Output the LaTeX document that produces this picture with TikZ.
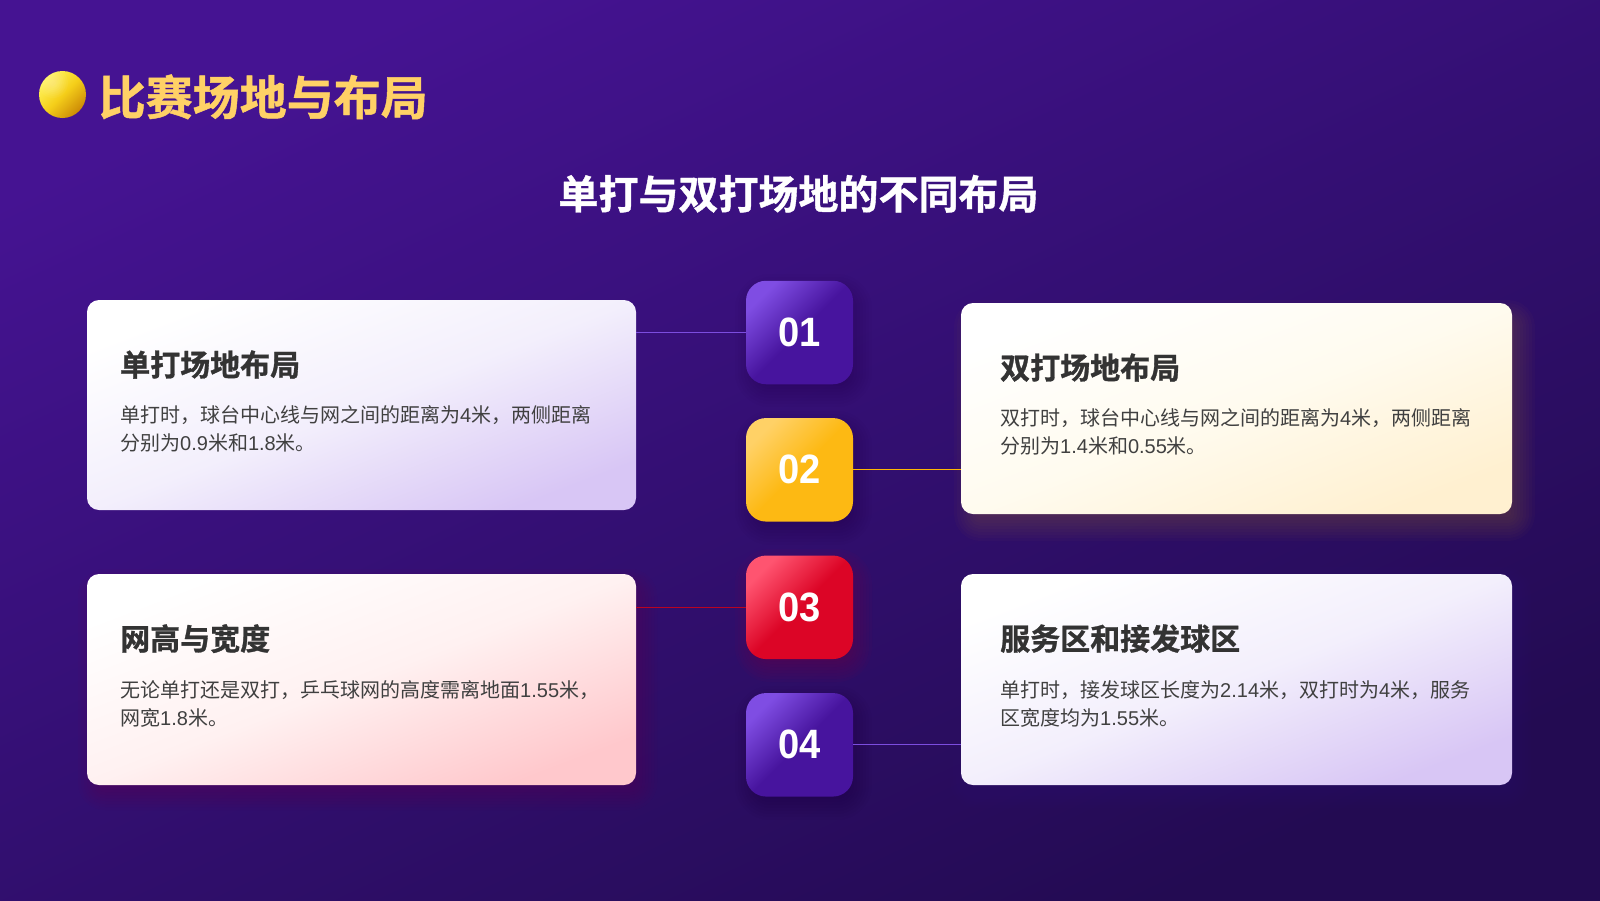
\documentclass[tikz,border=0pt]{standalone}
\usepackage{fontspec}
\setmainfont{Liberation Sans}
\newfontfamily\cjk{Noto Sans CJK SC}[BoldFont={Noto Sans CJK SC Bold},BoldFeatures={FakeBold=1}]
\newcommand{\zh}[1]{{\cjk #1}}
\definecolor{bgA}{HTML}{451392}
\definecolor{bgM}{HTML}{330F72}
\definecolor{bgB}{HTML}{230B52}
\definecolor{gold}{HTML}{FFD166}
\definecolor{amber}{HTML}{FFB703}
\definecolor{amberB}{HTML}{FDB913}
\definecolor{violetA}{HTML}{7F4DE3}
\definecolor{violetB}{HTML}{47149E}
\definecolor{violetL}{HTML}{7C4DDF}
\definecolor{redA}{HTML}{FF5470}
\definecolor{redB}{HTML}{DC0526}
\definecolor{cardV}{HTML}{D8C6F5}
\definecolor{cardVm}{HTML}{F3EFFC}
\definecolor{cardY}{HTML}{FFF0D0}
\definecolor{cardYm}{HTML}{FFFBEF}
\definecolor{cardR}{HTML}{FFC8CC}
\definecolor{cardRm}{HTML}{FFF1F1}
\definecolor{headc}{HTML}{333333}
\definecolor{bodyc}{HTML}{404040}
\definecolor{ballA}{HTML}{FFF35A}
\definecolor{ballB}{HTML}{F5CF1A}
\definecolor{ballC}{HTML}{CC8A06}
\newcommand{\softshadow}[8]{%
  % x1 y1 x2 y2 colour layerOpacity radius dy
  \foreach \k in {-15,-12,...,15}{%
    \fill[#5,fill opacity=#6,rounded corners={max(1,#7+\k)*1pt}]
      (#1-\k,#2+#8-\k) rectangle (#3+\k,#4+#8+\k);
  }%
}
\tikzset{
  x=1pt,y=-1pt,
  card/.style={rectangle,rounded corners=12pt,inner sep=0pt,minimum width=#1},
  cardv/.style={left color=white,right color=cardV,middle color=cardVm,shading angle=21},
  cardy/.style={left color=white,right color=cardY,middle color=cardYm,shading angle=21},
  cardr/.style={left color=white,right color=cardR,middle color=cardRm,shading angle=21},
  badge/.style={rectangle,rounded corners=20pt,inner sep=0pt,minimum width=107pt,minimum height=103.5pt,
    text=white,font=\fontsize{41}{41}\selectfont\bfseries\addfontfeature{FakeStretch=0.93}},
  badgev/.style={left color=violetA,right color=violetB,middle color=violetB,shading angle=45},
  badgey/.style={left color=gold,right color=amberB,middle color=amberB,shading angle=45},
  badger/.style={left color=redA,right color=redB,middle color=redB,shading angle=45},
  link/.style={line width=1pt},
  heading/.style={anchor=base west,inner sep=0pt,text=headc,font=\fontsize{30}{30}\selectfont\bfseries},
  bodytext/.style={anchor=north west,inner sep=0pt,text=bodyc,align=left,font=\fontsize{20}{28.6}\selectfont},
}
\begin{document}
\begin{tikzpicture}
\useasboundingbox (0,0) rectangle (1600,900);
\shade[left color=bgA,right color=bgB,middle color=bgM,shading angle=25] (0,0) rectangle (1600,900);

% shadows (x and y offset as in the reference)
\softshadow{91}{300}{640}{510}{violetL}{0.006}{12}{8}
\softshadow{969}{303}{1520}{514}{amber}{0.018}{12}{12}
\softshadow{93}{574}{642}{785}{redB}{0.015}{12}{10}
\softshadow{965}{574}{1516}{785}{violetL}{0.006}{12}{8}
\softshadow{750}{281}{857}{384}{black}{0.012}{20}{8}
\softshadow{750}{418}{857}{522}{black}{0.012}{20}{8}
\softshadow{750}{556}{857}{659}{redB}{0.025}{20}{8}
\softshadow{750}{693}{857}{797}{black}{0.012}{20}{8}

% ball
\node[circle,minimum size=47pt,inner sep=0pt,
  left color=ballA,right color=ballC,middle color=ballB,shading angle=45] (ball) at (62.5,94.5) {};
\begin{scope}
  \clip (ball.center) circle (23.5);
  \foreach \r in {3,5,...,15}{\fill[white,fill opacity=0.04] (53,83) circle (\r);}
\end{scope}

\node[anchor=base west,inner sep=0pt,text=gold,font=\fontsize{47}{47}\selectfont\cjk\bfseries] (title) at (98.5,115) {比赛场地与布局};
\node[anchor=base,inner sep=0pt,text=white,font=\fontsize{40}{40}\selectfont\cjk\bfseries] (subtitle) at (798.5,209) {单打与双打场地的不同布局};

% cards
\node[card=549pt,cardv,minimum height=210pt] (c1) at (361.5,405) {};
\node[card=551pt,cardy,minimum height=211pt] (c2) at (1236.5,408.5) {};
\node[card=549pt,cardr,minimum height=211pt] (c3) at (361.5,679.5) {};
\node[card=551pt,cardv,minimum height=211pt] (c4) at (1236.5,679.5) {};

% badges
\node[badge,badgev] (b1) at (799.5,332.5) {01};
\node[badge,badgey] (b2) at (799.5,469.8) {02};
\node[badge,badger] (b3) at (799.5,607.3) {03};
\node[badge,badgev] (b4) at (799.5,744.8) {04};

% connectors
\draw[link,violetL] (b1.west -| c1.east) -- (b1.west);
\draw[link,amber] (b2.east) -- (b2.east -| c2.west);
\draw[link,redB!85!black] (b3.west -| c3.east) -- (b3.west);
\draw[link,violetL] (b4.east) -- (b4.east -| c4.west);

% text
\node[heading] (h1) at (120,376) {\zh{单打场地布局}};
\node[bodytext] (t1) at (120,405) {\zh{单打时，球台中心线与网之间的距离为}4\zh{米，两侧距离}\\\zh{分别为}0.9\zh{米和}1.8\zh{米。}};
\node[heading] (h2) at (1000,379) {\zh{双打场地布局}};
\node[bodytext] (t2) at (1000,408) {\zh{双打时，球台中心线与网之间的距离为}4\zh{米，两侧距离}\\\zh{分别为}1.4\zh{米和}0.55\zh{米。}};
\node[heading] (h3) at (120,650) {\zh{网高与宽度}};
\node[bodytext] (t3) at (120,680) {\zh{无论单打还是双打，乒乓球网的高度需离地面}1.55\zh{米，}\\\zh{网宽}1.8\zh{米。}};
\node[heading] (h4) at (1000,650) {\zh{服务区和接发球区}};
\node[bodytext] (t4) at (1000,680) {\zh{单打时，接发球区长度为}2.14\zh{米，双打时为}4\zh{米，服务}\\\zh{区宽度均为}1.55\zh{米。}};
\end{tikzpicture}
\end{document}
